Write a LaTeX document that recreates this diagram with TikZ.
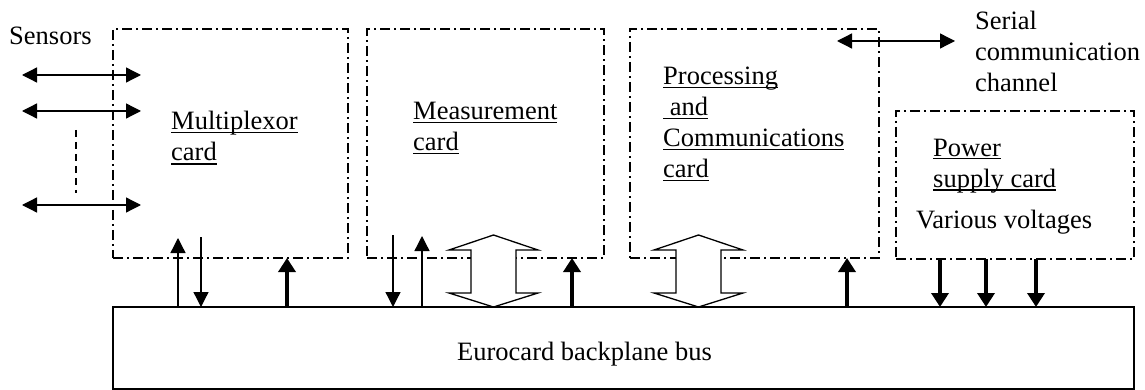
\documentclass[tikz,border=0pt]{standalone}
\usepackage{fontspec}
\setmainfont{Liberation Serif}
\usetikzlibrary{arrows.meta}
\newcommand\myul[1]{\setbox0\hbox{#1}\rlap{\rule[-3.5pt]{\wd0}{1.4pt}}\box0}
\begin{document}
\begin{tikzpicture}[x=1pt,y=-1pt,
  card/.style={draw, line width=1.2pt, dash pattern=on 10pt off 4pt on 2pt off 4pt, inner sep=0pt, outer sep=0pt, anchor=north west},
  lbl/.style={inner sep=0pt, anchor=base west, align=left, font=\fontsize{26.5}{31}\selectfont},
  thinarr/.style={line width=1.3pt, -{Triangle[length=15pt,width=15pt]}},
  thickarr/.style={line width=4.5pt, -{Triangle[length=14pt,width=17pt]}},
  dblarr/.style={line width=1.3pt, {Triangle[length=15pt,width=15pt]}-{Triangle[length=15pt,width=15pt]}},
  hollow/.style={draw, fill=white, line width=1.3pt, line join=miter}]
\useasboundingbox (0,0) rectangle (1145,390);
% cards
\node[card, minimum width=235pt, minimum height=229pt] (mux) at (113,29) {};
\node[card, minimum width=237pt, minimum height=229pt] (meas) at (367,29) {};
\node[card, minimum width=249pt, minimum height=229pt] (proc) at (630,29) {};
\node[card, minimum width=238pt, minimum height=148pt] (pwr) at (896,111) {};
\node[draw, line width=1.5pt, minimum width=1021pt, minimum height=82pt, inner sep=0pt, outer sep=0pt, anchor=north west] (bus) at (113,307) {};
% labels (anchor = baseline of the last line)
\node[lbl] (sens) at (9,45) {Sensors};
\node[lbl] (muxt) at (171,161) {\myul{Multiplexor}\\\myul{card}};
\node[lbl] (meast) at (413,151) {\myul{Measurement}\\\myul{card}};
\node[lbl] (proct) at (663,178) {\myul{Processing}\\\myul{\ and}\\\myul{Communications}\\\myul{card}};
\node[lbl] (pwrt) at (933,187) {\myul{Power}\\\myul{supply card}};
\node[lbl] (volt) at (916,228) {Various voltages};
\node[lbl] (ser) at (975,92) {Serial\\communication\\channel};
\node[lbl] (bust) at (457,360) {Eurocard backplane bus};
% sensor arrows
\foreach \y/\n in {75/a,111/b,205/c} {
  \coordinate (s\n l) at (22,\y);
  \coordinate (s\n r) at (141,\y);
  \draw[dblarr] (s\n l) -- (s\n r);
}
\coordinate (dt) at (76,130);
\coordinate (db) at (76,193);
\draw[line width=1.2pt, dash pattern=on 7pt off 5pt] (dt) -- (db);
% serial arrow
\coordinate (serl) at (837,41);
\coordinate (serr) at (955,41);
\draw[dblarr] (serl) -- (serr);
% bus arrows
\draw[thinarr] (bus.north -| 178,0) -- (178,238);
\draw[thinarr] (201,237) -- (bus.north -| 201,0);
\draw[thickarr] (bus.north -| 287,0) -- (mux.south -| 287,0);
\draw[thinarr] (393,235) -- (bus.north -| 393,0);
\draw[thinarr] (bus.north -| 422,0) -- (422,236);
\draw[thickarr] (bus.north -| 572,0) -- (meas.south -| 572,0);
\draw[thickarr] (bus.north -| 847,0) -- (proc.south -| 847,0);
\foreach \x in {940,986,1036}
  \draw[thickarr] (pwr.south -| \x,0) -- (bus.north -| \x,0);
% hollow bus arrows
\foreach \c in {493.5,698.5}
  \draw[hollow] (\c,235) -- ++(44.5,15) -- ++(-22,0) -- ++(0,43) -- ++(22,0) -- (\c,307)
    -- ++(-44.5,-14) -- ++(22,0) -- ++(0,-43) -- ++(-22,0) -- cycle;
\end{tikzpicture}
\end{document}
